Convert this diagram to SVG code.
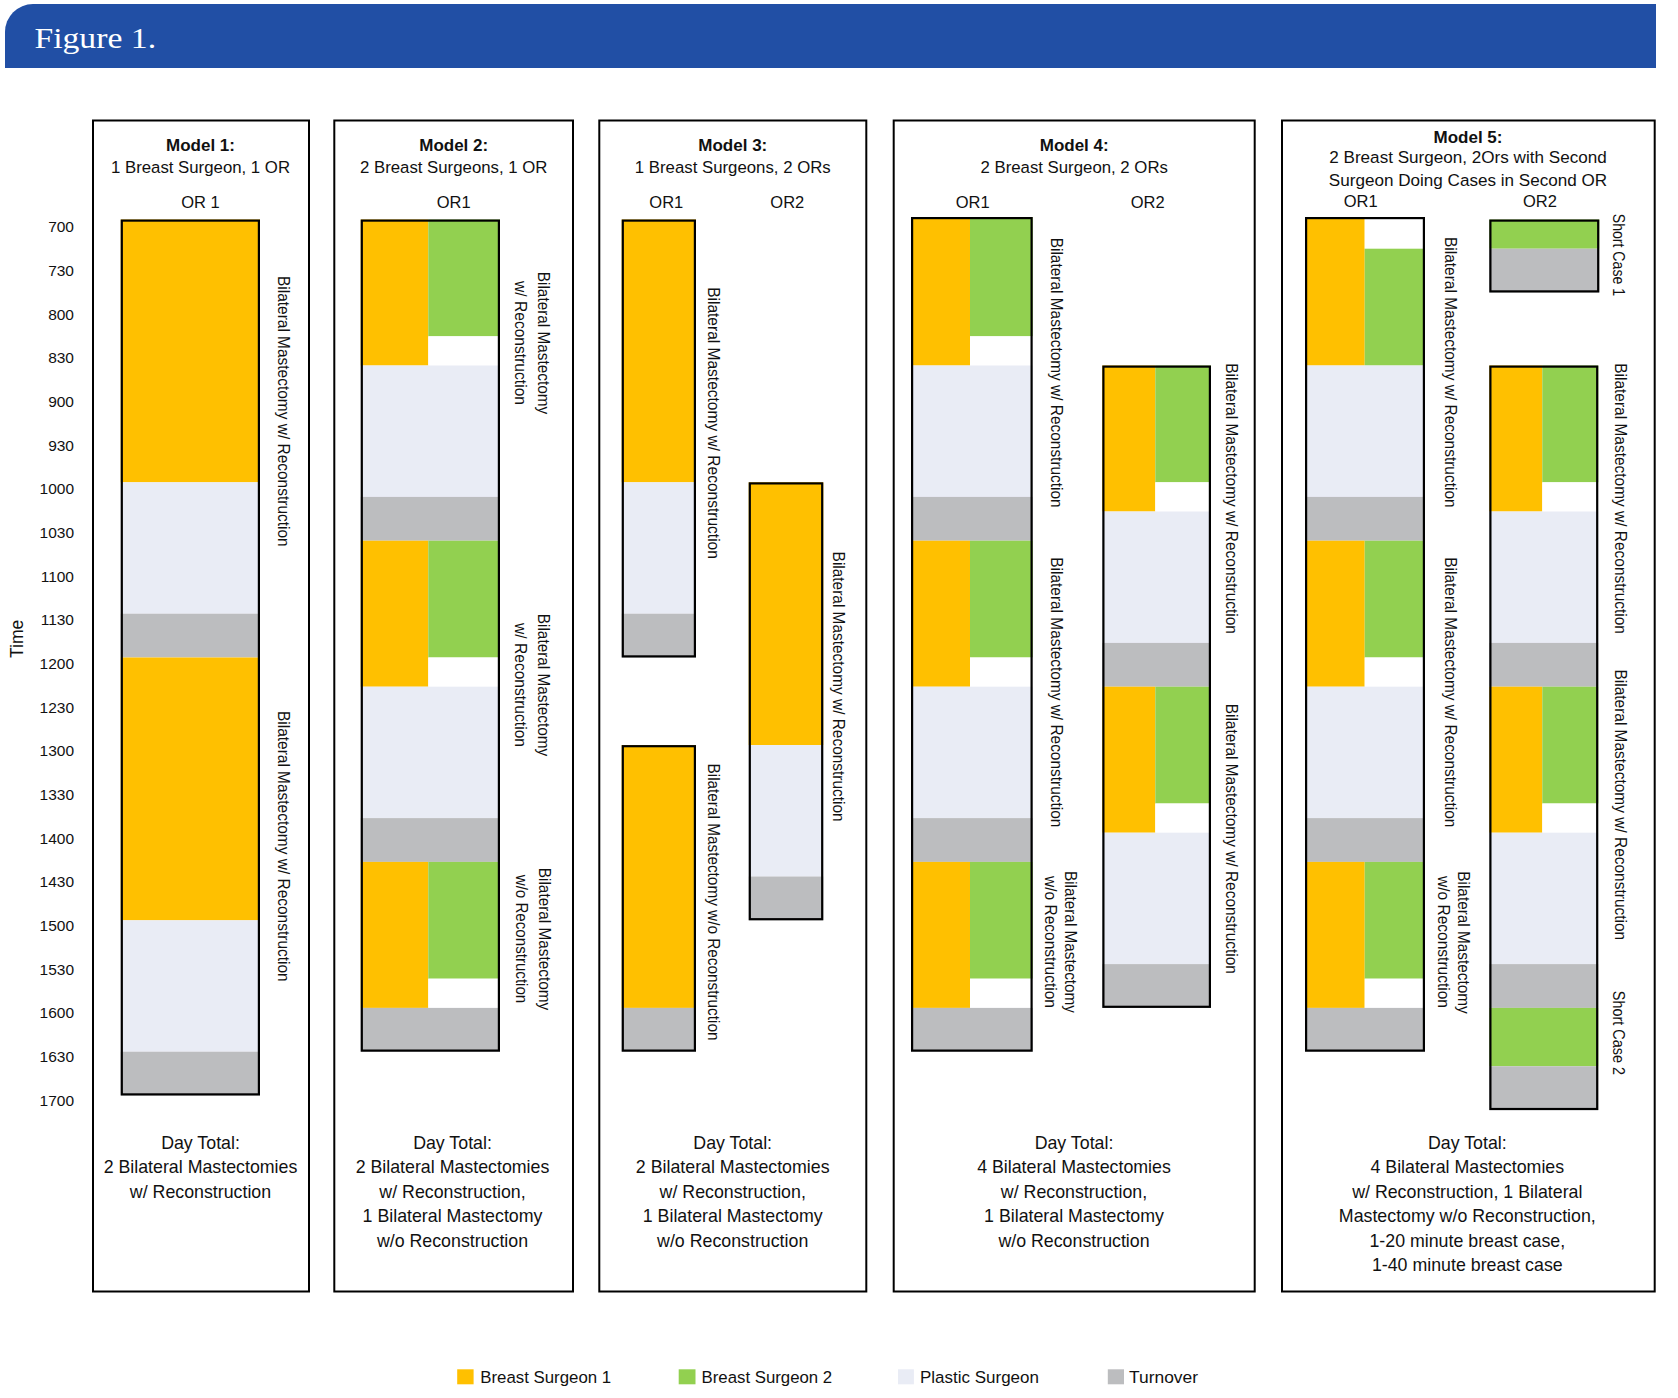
<svg xmlns="http://www.w3.org/2000/svg" width="1678" height="1398" viewBox="0 0 1678 1398">
<style>
text{font-family:"Liberation Sans",Arial,sans-serif;fill:#111}
.box{fill:none;stroke:#000;stroke-width:2}
.bar{fill:none;stroke:#000;stroke-width:2.2}
.y{fill:#FFC000}.g{fill:#92D050}.p{fill:#E9ECF5}.t{fill:#BCBDBF}.w{fill:#fff}
.ttl{font-weight:bold;font-size:17px;text-anchor:middle}
.sub{font-size:16.8px;text-anchor:middle}
.or{font-size:16.5px;text-anchor:middle}
.tm{font-size:15.5px;text-anchor:end}
.rl{font-size:16.5px;text-anchor:middle}
.dt{font-size:17.8px;text-anchor:middle}
.lg{font-size:16.8px}
</style>
<rect width="1678" height="1398" fill="#fff"/>
<g id="header">
<path d="M5 68V32A28 28 0 0 1 33 4H1656V68Z" fill="#214FA5"/>
<text x="34.4" y="47.7" style="font-family:'Liberation Serif','DejaVu Serif',serif;font-size:30px;fill:#fff" textLength="121.7" lengthAdjust="spacingAndGlyphs">Figure 1.</text>
</g>
<g id="time-axis">
<text class="tm" x="74" y="232.3">700</text>
<text class="tm" x="74" y="276.0">730</text>
<text class="tm" x="74" y="319.6">800</text>
<text class="tm" x="74" y="363.3">830</text>
<text class="tm" x="74" y="407.0">900</text>
<text class="tm" x="74" y="450.7">930</text>
<text class="tm" x="74" y="494.3">1000</text>
<text class="tm" x="74" y="538.0">1030</text>
<text class="tm" x="74" y="581.7">1100</text>
<text class="tm" x="74" y="625.3">1130</text>
<text class="tm" x="74" y="669.0">1200</text>
<text class="tm" x="74" y="712.7">1230</text>
<text class="tm" x="74" y="756.3">1300</text>
<text class="tm" x="74" y="800.0">1330</text>
<text class="tm" x="74" y="843.7">1400</text>
<text class="tm" x="74" y="887.4">1430</text>
<text class="tm" x="74" y="931.0">1500</text>
<text class="tm" x="74" y="974.7">1530</text>
<text class="tm" x="74" y="1018.4">1600</text>
<text class="tm" x="74" y="1062.0">1630</text>
<text class="tm" x="74" y="1105.7">1700</text>
<text transform="translate(23,638.8) rotate(-90)" style="font-size:17.5px;text-anchor:middle">Time</text>
</g>
<g id="connectors"></g>

<g id="model1">
<rect class="box" x="93" y="120.5" width="216" height="1171"/>
<text class="ttl" x="200.5" y="151.3">Model 1:</text>
<text class="sub" x="200.5" y="173">1 Breast Surgeon, 1 OR</text>
<text class="or" x="200.5" y="207.5">OR 1</text>
<rect class="y" x="120.7" y="219.5" width="139.3" height="262.8"/>
<rect class="p" x="120.7" y="482.3" width="139.3" height="131.4"/>
<rect class="t" x="120.7" y="613.7" width="139.3" height="43.8"/>
<rect class="y" x="120.7" y="657.5" width="139.3" height="262.8"/>
<rect class="p" x="120.7" y="920.3" width="139.3" height="131.4"/>
<rect class="t" x="120.7" y="1051.7" width="139.3" height="43.8"/>
<rect class="bar" x="121.8" y="220.6" width="137.1" height="873.8"/>
<text class="rl" transform="translate(277.5,411.3) rotate(90)" textLength="270.7" lengthAdjust="spacingAndGlyphs">Bilateral Mastectomy w/ Reconstruction</text>
<text class="rl" transform="translate(277.5,846.3) rotate(90)" textLength="270.7" lengthAdjust="spacingAndGlyphs">Bilateral Mastectomy w/ Reconstruction</text>
<text class="dt" x="200.5" y="1148.5">Day Total:</text>
<text class="dt" x="200.5" y="1173">2 Bilateral Mastectomies</text>
<text class="dt" x="200.5" y="1197.5">w/ Reconstruction</text>
</g>

<g id="model2">
<rect class="box" x="334.3" y="120.5" width="238.7" height="1171"/>
<text class="ttl" x="453.7" y="151.3">Model 2:</text>
<text class="sub" x="453.7" y="173">2 Breast Surgeons, 1 OR</text>
<text class="or" x="453.7" y="207.5">OR1</text>
<rect class="y" x="360.7" y="219.5" width="67.6" height="146"/>
<rect class="g" x="428.3" y="219.5" width="71.7" height="116.8"/>
<rect class="w" x="428.3" y="336.3" width="71.7" height="29.2"/>
<rect class="p" x="360.7" y="365.5" width="139.3" height="131.4"/>
<rect class="t" x="360.7" y="496.9" width="139.3" height="43.8"/>
<rect class="y" x="360.7" y="540.7" width="67.6" height="146"/>
<rect class="g" x="428.3" y="540.7" width="71.7" height="116.8"/>
<rect class="w" x="428.3" y="657.5" width="71.7" height="29.2"/>
<rect class="p" x="360.7" y="686.7" width="139.3" height="131.4"/>
<rect class="t" x="360.7" y="818.1" width="139.3" height="43.8"/>
<rect class="y" x="360.7" y="861.9" width="67.6" height="146"/>
<rect class="g" x="428.3" y="861.9" width="71.7" height="116.8"/>
<rect class="w" x="428.3" y="978.7" width="71.7" height="29.2"/>
<rect class="t" x="360.7" y="1007.9" width="139.3" height="43.8"/>
<rect class="bar" x="361.8" y="220.6" width="137.1" height="830"/>
<text class="rl" transform="translate(538,343) rotate(90)" textLength="142.4" lengthAdjust="spacingAndGlyphs">Bilateral Mastectomy</text>
<text class="rl" transform="translate(515,343) rotate(90)" textLength="124" lengthAdjust="spacingAndGlyphs">w/ Reconstruction</text>
<text class="rl" transform="translate(538,685) rotate(90)" textLength="142.4" lengthAdjust="spacingAndGlyphs">Bilateral Mastectomy</text>
<text class="rl" transform="translate(515,685) rotate(90)" textLength="124" lengthAdjust="spacingAndGlyphs">w/ Reconstruction</text>
<text class="rl" transform="translate(539,939) rotate(90)" textLength="142.4" lengthAdjust="spacingAndGlyphs">Bilateral Mastectomy</text>
<text class="rl" transform="translate(516,939) rotate(90)" textLength="128.5" lengthAdjust="spacingAndGlyphs">w/o Reconstruction</text>
<text class="dt" x="452.5" y="1148.5">Day Total:</text>
<text class="dt" x="452.5" y="1173">2 Bilateral Mastectomies</text>
<text class="dt" x="452.5" y="1197.5">w/ Reconstruction,</text>
<text class="dt" x="452.5" y="1222">1 Bilateral Mastectomy</text>
<text class="dt" x="452.5" y="1246.5">w/o Reconstruction</text>
</g>

<g id="model3">
<rect class="box" x="599.3" y="120.5" width="267" height="1171"/>
<text class="ttl" x="732.8" y="151.3">Model 3:</text>
<text class="sub" x="732.8" y="173">1 Breast Surgeons, 2 ORs</text>
<text class="or" x="666.3" y="207.5">OR1</text>
<text class="or" x="787.3" y="207.5">OR2</text>
<rect class="y" x="621.7" y="219.5" width="74.3" height="262.8"/>
<rect class="p" x="621.7" y="482.3" width="74.3" height="131.4"/>
<rect class="t" x="621.7" y="613.7" width="74.3" height="43.8"/>
<rect class="bar" x="622.8" y="220.6" width="72.1" height="435.8"/>
<rect class="y" x="621.7" y="745.1" width="74.3" height="262.8"/>
<rect class="t" x="621.7" y="1007.9" width="74.3" height="43.8"/>
<rect class="bar" x="622.8" y="746.2" width="72.1" height="304.4"/>
<rect class="y" x="748.7" y="482.3" width="74.6" height="262.8"/>
<rect class="p" x="748.7" y="745.1" width="74.6" height="131.4"/>
<rect class="t" x="748.7" y="876.5" width="74.6" height="43.8"/>
<rect class="bar" x="749.8" y="483.4" width="72.4" height="435.8"/>
<text class="rl" transform="translate(708,423) rotate(90)" textLength="271.7" lengthAdjust="spacingAndGlyphs">Bilateral Mastectomy w/ Reconstruction</text>
<text class="rl" transform="translate(708,902) rotate(90)" textLength="277" lengthAdjust="spacingAndGlyphs">Bilateral Mastectomy w/o Reconstruction</text>
<text class="rl" transform="translate(833,686.6) rotate(90)" textLength="270" lengthAdjust="spacingAndGlyphs">Bilateral Mastectomy w/ Reconstruction</text>
<text class="dt" x="732.7" y="1148.5">Day Total:</text>
<text class="dt" x="732.7" y="1173">2 Bilateral Mastectomies</text>
<text class="dt" x="732.7" y="1197.5">w/ Reconstruction,</text>
<text class="dt" x="732.7" y="1222">1 Bilateral Mastectomy</text>
<text class="dt" x="732.7" y="1246.5">w/o Reconstruction</text>
</g>

<g id="model4">
<rect class="box" x="893.7" y="120.5" width="361" height="1171"/>
<text class="ttl" x="1074.2" y="151.3">Model 4:</text>
<text class="sub" x="1074.2" y="173">2 Breast Surgeon, 2 ORs</text>
<text class="or" x="972.7" y="207.5">OR1</text>
<text class="or" x="1147.7" y="207.5">OR2</text>
<rect class="y" x="911" y="217" width="59" height="148.5"/>
<rect class="g" x="970" y="217" width="62.7" height="119.3"/>
<rect class="w" x="970" y="336.3" width="62.7" height="29.2"/>
<rect class="p" x="911" y="365.5" width="121.7" height="131.4"/>
<rect class="t" x="911" y="496.9" width="121.7" height="43.8"/>
<rect class="y" x="911" y="540.7" width="59" height="146"/>
<rect class="g" x="970" y="540.7" width="62.7" height="116.8"/>
<rect class="w" x="970" y="657.5" width="62.7" height="29.2"/>
<rect class="p" x="911" y="686.7" width="121.7" height="131.4"/>
<rect class="t" x="911" y="818.1" width="121.7" height="43.8"/>
<rect class="y" x="911" y="861.9" width="59" height="146"/>
<rect class="g" x="970" y="861.9" width="62.7" height="116.8"/>
<rect class="w" x="970" y="978.7" width="62.7" height="29.2"/>
<rect class="t" x="911" y="1007.9" width="121.7" height="43.8"/>
<rect class="bar" x="912.1" y="218.1" width="119.5" height="832.5"/>
<rect class="y" x="1102.3" y="365.5" width="53" height="146"/>
<rect class="g" x="1155.3" y="365.5" width="55.7" height="116.8"/>
<rect class="w" x="1155.3" y="482.3" width="55.7" height="29.2"/>
<rect class="p" x="1102.3" y="511.5" width="108.7" height="131.4"/>
<rect class="t" x="1102.3" y="642.9" width="108.7" height="43.8"/>
<rect class="y" x="1102.3" y="686.7" width="53" height="146"/>
<rect class="g" x="1155.3" y="686.7" width="55.7" height="116.8"/>
<rect class="w" x="1155.3" y="803.5" width="55.7" height="29.2"/>
<rect class="p" x="1102.3" y="832.7" width="108.7" height="131.4"/>
<rect class="t" x="1102.3" y="964.1" width="108.7" height="43.8"/>
<rect class="bar" x="1103.4" y="366.6" width="106.5" height="640.2"/>
<text class="rl" transform="translate(1051.3,372.7) rotate(90)" textLength="270" lengthAdjust="spacingAndGlyphs">Bilateral Mastectomy w/ Reconstruction</text>
<text class="rl" transform="translate(1051.3,692.3) rotate(90)" textLength="270" lengthAdjust="spacingAndGlyphs">Bilateral Mastectomy w/ Reconstruction</text>
<text class="rl" transform="translate(1064.5,942) rotate(90)" textLength="142" lengthAdjust="spacingAndGlyphs">Bilateral Mastectomy</text>
<text class="rl" transform="translate(1044.5,942) rotate(90)" textLength="132" lengthAdjust="spacingAndGlyphs">w/o Reconstruction</text>
<text class="rl" transform="translate(1226.3,498.6) rotate(90)" textLength="270.6" lengthAdjust="spacingAndGlyphs">Bilateral Mastectomy w/ Reconstruction</text>
<text class="rl" transform="translate(1226.3,838.8) rotate(90)" textLength="270.2" lengthAdjust="spacingAndGlyphs">Bilateral Mastectomy w/ Reconstruction</text>
<text class="dt" x="1074" y="1148.5">Day Total:</text>
<text class="dt" x="1074" y="1173">4 Bilateral Mastectomies</text>
<text class="dt" x="1074" y="1197.5">w/ Reconstruction,</text>
<text class="dt" x="1074" y="1222">1 Bilateral Mastectomy</text>
<text class="dt" x="1074" y="1246.5">w/o Reconstruction</text>
</g>

<g id="model5">
<rect class="box" x="1282" y="120.5" width="372.7" height="1171"/>
<text class="ttl" x="1468" y="142.5">Model 5:</text>
<text class="sub" x="1468" y="163.4" style="font-size:17.1px">2 Breast Surgeon, 2Ors with Second</text>
<text class="sub" x="1468" y="185.6" style="font-size:17.1px">Surgeon Doing Cases in Second OR</text>
<text class="or" x="1360.7" y="206.6">OR1</text>
<text class="or" x="1540" y="206.6">OR2</text>
<rect class="y" x="1305" y="217" width="59.7" height="148.5"/>
<rect class="w" x="1364.7" y="217" width="60.3" height="31.7"/>
<rect class="g" x="1364.7" y="248.7" width="60.3" height="116.8"/>
<rect class="p" x="1305" y="365.5" width="120" height="131.4"/>
<rect class="t" x="1305" y="496.9" width="120" height="43.8"/>
<rect class="y" x="1305" y="540.7" width="59.7" height="146"/>
<rect class="g" x="1364.7" y="540.7" width="60.3" height="116.8"/>
<rect class="w" x="1364.7" y="657.5" width="60.3" height="29.2"/>
<rect class="p" x="1305" y="686.7" width="120" height="131.4"/>
<rect class="t" x="1305" y="818.1" width="120" height="43.8"/>
<rect class="y" x="1305" y="861.9" width="59.7" height="146"/>
<rect class="g" x="1364.7" y="861.9" width="60.3" height="116.8"/>
<rect class="w" x="1364.7" y="978.7" width="60.3" height="29.2"/>
<rect class="t" x="1305" y="1007.9" width="120" height="43.8"/>
<rect class="bar" x="1306.1" y="218.1" width="117.8" height="832.5"/>
<rect class="g" x="1489.3" y="219.5" width="110" height="29.2"/>
<rect class="t" x="1489.3" y="248.7" width="110" height="43.8"/>
<rect class="bar" x="1490.4" y="220.6" width="107.8" height="70.8"/>
<rect class="y" x="1489.3" y="365.5" width="53" height="146"/>
<rect class="g" x="1542.3" y="365.5" width="56" height="116.8"/>
<rect class="w" x="1542.3" y="482.3" width="56" height="29.2"/>
<rect class="p" x="1489.3" y="511.5" width="109" height="131.4"/>
<rect class="t" x="1489.3" y="642.9" width="109" height="43.8"/>
<rect class="y" x="1489.3" y="686.7" width="53" height="146"/>
<rect class="g" x="1542.3" y="686.7" width="56" height="116.8"/>
<rect class="w" x="1542.3" y="803.5" width="56" height="29.2"/>
<rect class="p" x="1489.3" y="832.7" width="109" height="131.4"/>
<rect class="t" x="1489.3" y="964.1" width="109" height="43.8"/>
<rect class="g" x="1489.3" y="1007.9" width="109" height="58.4"/>
<rect class="t" x="1489.3" y="1066.3" width="109" height="43.8"/>
<rect class="bar" x="1490.4" y="366.6" width="106.8" height="742.4"/>
<text class="rl" transform="translate(1613.3,254.9) rotate(90)" textLength="82.3" lengthAdjust="spacingAndGlyphs">Short Case 1</text>
<text class="rl" transform="translate(1444.7,372.3) rotate(90)" textLength="270.6" lengthAdjust="spacingAndGlyphs">Bilateral Mastectomy w/ Reconstruction</text>
<text class="rl" transform="translate(1444.7,692.3) rotate(90)" textLength="270" lengthAdjust="spacingAndGlyphs">Bilateral Mastectomy w/ Reconstruction</text>
<text class="rl" transform="translate(1458,942.5) rotate(90)" textLength="142.4" lengthAdjust="spacingAndGlyphs">Bilateral Mastectomy</text>
<text class="rl" transform="translate(1437.7,942) rotate(90)" textLength="132" lengthAdjust="spacingAndGlyphs">w/o Reconstruction</text>
<text class="rl" transform="translate(1614.7,498.6) rotate(90)" textLength="270.6" lengthAdjust="spacingAndGlyphs">Bilateral Mastectomy w/ Reconstruction</text>
<text class="rl" transform="translate(1614.7,804.8) rotate(90)" textLength="270.7" lengthAdjust="spacingAndGlyphs">Bilateral Mastectomy w/ Reconstruction</text>
<text class="rl" transform="translate(1613.3,1032.9) rotate(90)" textLength="84.3" lengthAdjust="spacingAndGlyphs">Short Case 2</text>
<text class="dt" x="1467.3" y="1148.5">Day Total:</text>
<text class="dt" x="1467.3" y="1173">4 Bilateral Mastectomies</text>
<text class="dt" x="1467.3" y="1197.5">w/ Reconstruction, 1 Bilateral</text>
<text class="dt" x="1467.3" y="1222">Mastectomy w/o Reconstruction,</text>
<text class="dt" x="1467.3" y="1246.5">1-20 minute breast case,</text>
<text class="dt" x="1467.3" y="1271">1-40 minute breast case</text>
</g>

<g id="legend-bs1">
<rect class="y" x="457.2" y="1369.3" width="16.4" height="15"/>
<text class="lg" x="480.2" y="1382.7" textLength="131" lengthAdjust="spacingAndGlyphs">Breast Surgeon 1</text>
</g>
<g id="legend-bs2">
<rect class="g" x="678.7" y="1369.3" width="16.8" height="15"/>
<text class="lg" x="701.6" y="1382.7" textLength="130.6" lengthAdjust="spacingAndGlyphs">Breast Surgeon 2</text>
</g>
<g id="legend-plastic">
<rect class="p" x="898" y="1369.3" width="15.9" height="15"/>
<text class="lg" x="920" y="1382.7" textLength="118.9" lengthAdjust="spacingAndGlyphs">Plastic Surgeon</text>
</g>
<g id="legend-turnover">
<rect class="t" x="1107.8" y="1369.3" width="16.2" height="15"/>
<text class="lg" x="1129" y="1382.7" textLength="69" lengthAdjust="spacingAndGlyphs">Turnover</text>
</g>
</svg>
